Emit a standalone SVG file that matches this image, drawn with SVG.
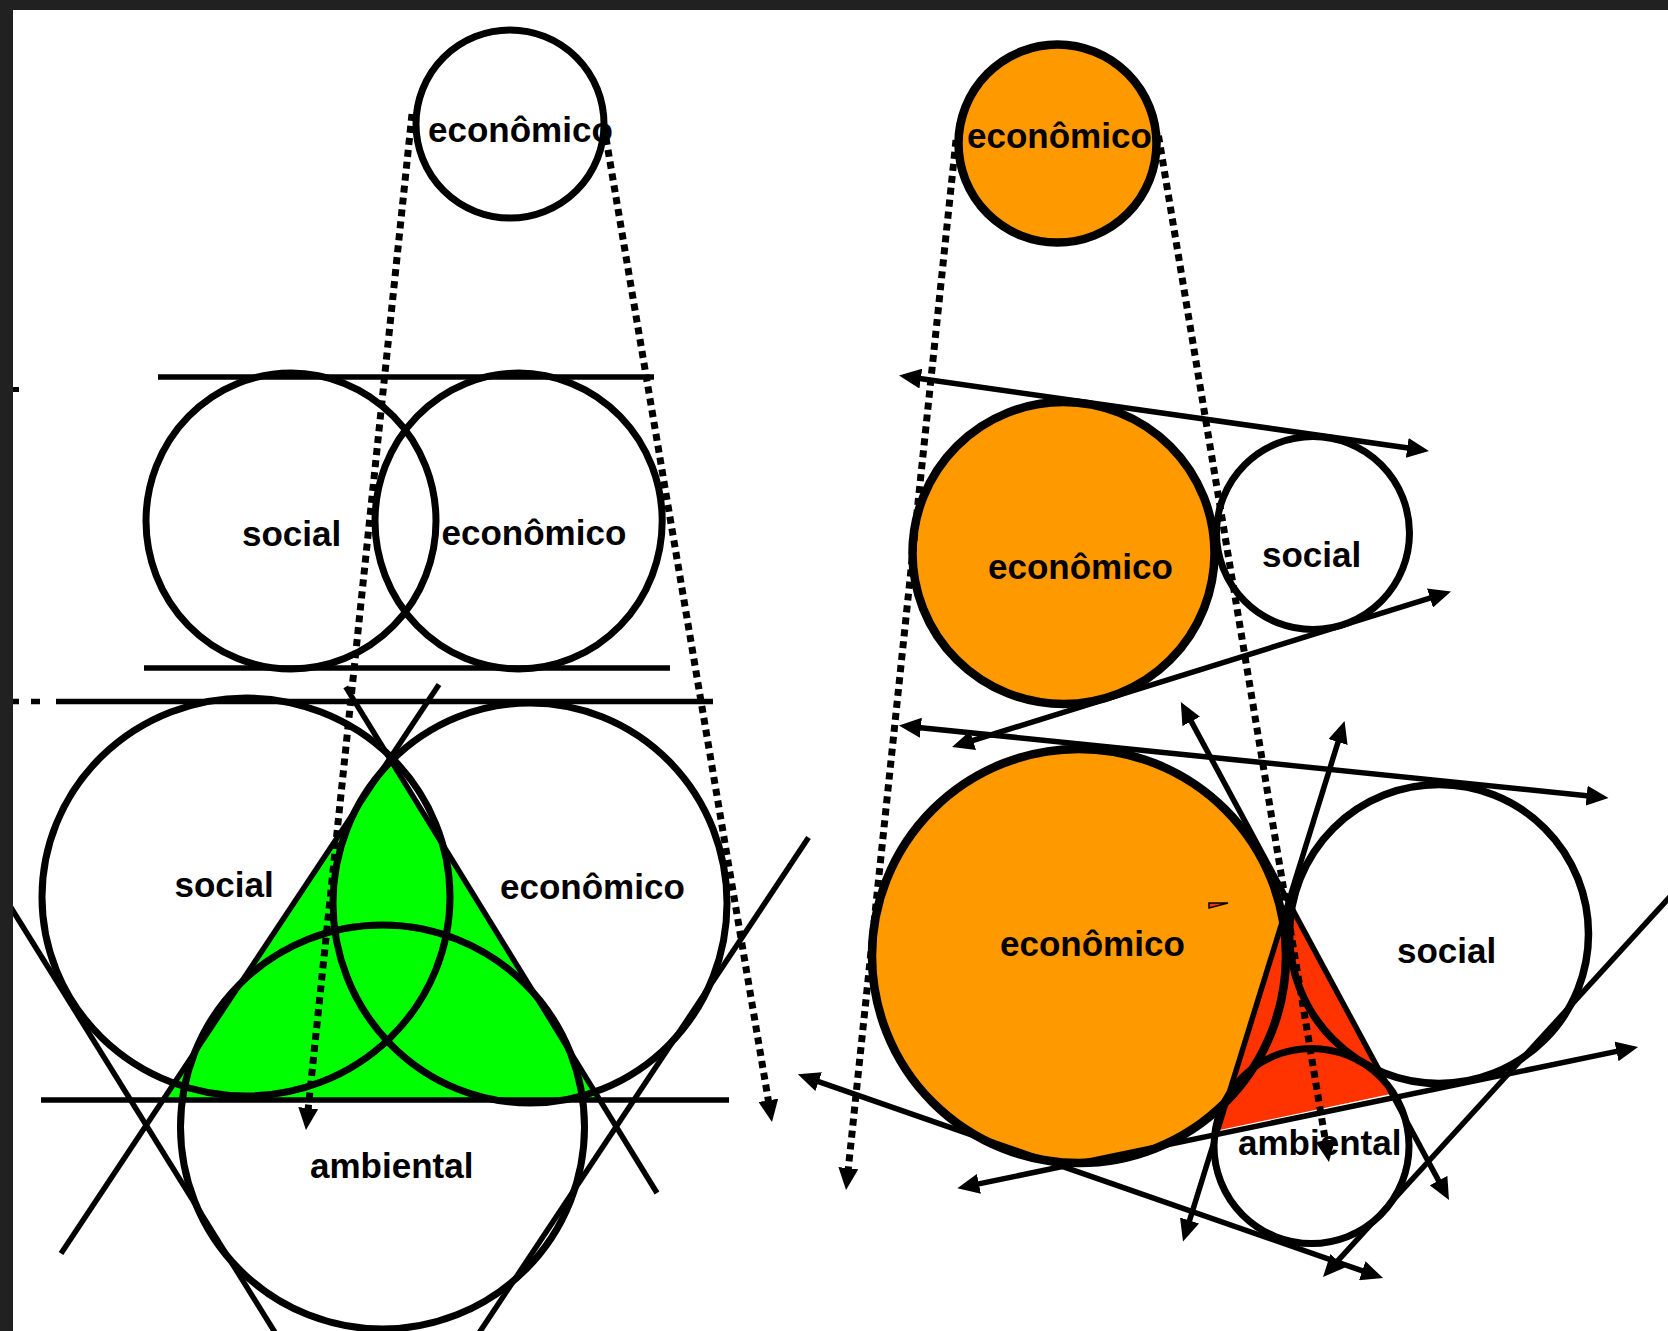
<svg xmlns="http://www.w3.org/2000/svg" width="1668" height="1331" viewBox="0 0 1668 1331">
<style>
.t{font-family:"Liberation Sans",Arial,sans-serif;font-weight:bold;font-size:35px;fill:#000}
.c{fill:none;stroke:#000;stroke-width:7}
.co{stroke:#000;stroke-width:8.5;fill:#FF9900}
.l{stroke:#000;stroke-width:5.5;fill:none}
.d{stroke:#000;stroke-width:7;fill:none;stroke-dasharray:7 5}
</style>
<defs>
<marker id="ah" viewBox="0 0 22 20" refX="10" refY="10" markerWidth="22" markerHeight="20" markerUnits="userSpaceOnUse" orient="auto-start-reverse">
<path d="M0,0 L22,10 L0,20 z" fill="#000"/>
</marker>
</defs>
<rect width="1668" height="1331" fill="#fff"/>

<!-- LEFT GROUP -->
<g id="left-top">
<circle class="c" cx="510" cy="124" r="94"/>
<text class="t" x="428" y="142">econômico</text>
</g>
<g id="left-mid">
<ellipse class="c" cx="291" cy="521" rx="145" ry="148"/>
<ellipse class="c" cx="518.6" cy="521" rx="143.6" ry="148"/>
<text class="t" x="242" y="545.5">social</text>
<text class="t" x="441.5" y="545">econômico</text>
</g>
<g id="left-bottom">
<polygon points="390,758.6 163,1100 600,1100" fill="#00FF00"/>
<ellipse class="c" cx="246" cy="897" rx="204" ry="199"/>
<ellipse class="c" cx="530" cy="903" rx="197" ry="200"/>
<ellipse class="c" cx="382.5" cy="1127" rx="202" ry="202"/>
<text class="t" x="174.5" y="897">social</text>
<text class="t" x="500" y="898.5">econômico</text>
<text class="t" x="310" y="1178">ambiental</text>
</g>
<g id="left-connectors">
<line class="l" x1="158" y1="377" x2="654" y2="377"/>
<line class="l" x1="144" y1="668" x2="670" y2="668"/>
<line class="l" x1="56" y1="701.5" x2="713" y2="701.5"/>
<line class="l" x1="31" y1="701.5" x2="40" y2="701.5"/>
<line class="l" x1="13" y1="701.5" x2="19" y2="701.5"/>
<rect x="13" y="387" width="6" height="5" fill="#000"/>
<line class="l" x1="41" y1="1100" x2="729" y2="1100"/>
<line class="l" x1="439" y1="684.5" x2="61" y2="1253.5"/>
<line class="l" x1="345.7" y1="686.9" x2="657" y2="1193"/>
<line class="l" x1="5" y1="898" x2="276.6" y2="1335"/>
<line class="l" x1="808.5" y1="837.5" x2="477" y2="1336"/>
<line class="d" x1="412" y1="114" x2="307.2" y2="1118.1" marker-end="url(#ah)"/>
<line class="d" x1="606" y1="138" x2="770" y2="1110.2" marker-end="url(#ah)"/>
</g>

<!-- RIGHT GROUP -->
<g id="right-top">
<circle class="co" cx="1057.5" cy="143.6" r="99"/>
<text class="t" x="967" y="148">econômico</text>
</g>
<g id="right-mid">
<circle class="co" cx="1063.5" cy="553" r="151"/>
<circle class="c" cx="1313" cy="533" r="96.5" fill="#fff"/>
<text class="t" x="988" y="579">econômico</text>
<text class="t" x="1262" y="567">social</text>
</g>
<g id="right-bottom">
<circle cx="1079" cy="956" r="207" fill="#FF9900"/>
<circle cx="1439" cy="934" r="149.5" fill="#fff"/>
<polygon points="1288.5,902 1217.4,1130.5 1391.7,1093.7" fill="#FF3300"/>
<circle cx="1439" cy="934" r="149.5" fill="none" stroke="#000" stroke-width="7.5"/>
<circle cx="1079" cy="956" r="207" fill="none" stroke="#000" stroke-width="8.5"/>
<circle class="c" cx="1311.5" cy="1146" r="97.5"/>
<polygon points="1209,903 1228,903 1209,908" fill="#FF3300" stroke="#000" stroke-width="1.5"/>
<text class="t" x="1000" y="956">econômico</text>
<text class="t" x="1397" y="963">social</text>
<text class="t" x="1238" y="1155">ambiental</text>
</g>
<g id="right-connectors">
<line class="l" x1="910.9" y1="377.2" x2="1417.1" y2="449.3" marker-start="url(#ah)" marker-end="url(#ah)"/>
<line class="l" x1="963.5" y1="743.4" x2="1439.5" y2="595.1" marker-start="url(#ah)" marker-end="url(#ah)"/>
<line class="l" x1="910.9" y1="726.7" x2="1596.6" y2="796.7" marker-start="url(#ah)" marker-end="url(#ah)"/>
<line class="l" x1="1186.5" y1="712.6" x2="1443.3" y2="1189.4" marker-start="url(#ah)" marker-end="url(#ah)"/>
<line class="l" x1="1341" y1="732.5" x2="1186.6" y2="1230" marker-start="url(#ah)" marker-end="url(#ah)"/>
<line class="l" x1="809.2" y1="1078.3" x2="1371.7" y2="1274.1" marker-start="url(#ah)" marker-end="url(#ah)"/>
<line class="l" x1="969.1" y1="1185.9" x2="1626.3" y2="1049.4" marker-start="url(#ah)" marker-end="url(#ah)"/>
<line class="l" x1="1680" y1="885.7" x2="1331.1" y2="1268.1" marker-end="url(#ah)"/>
<line class="d" x1="956" y1="140" x2="847.3" y2="1178.1" marker-end="url(#ah)"/>
<line class="d" x1="1158.5" y1="135.7" x2="1327" y2="1150.2" marker-end="url(#ah)"/>
</g>

<g id="frame">
<rect x="0" y="0" width="1668" height="10" fill="#212121"/>
<rect x="0" y="0" width="13" height="1331" fill="#212121"/>
</g>
</svg>
